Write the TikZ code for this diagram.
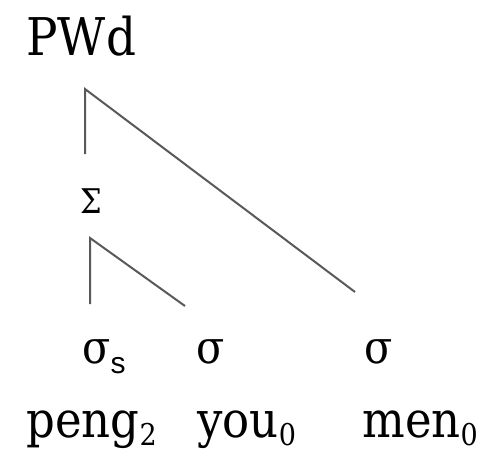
\documentclass[tikz,border=0pt]{standalone}
\usepackage{fontspec}
\newfontfamily\tmsfont{DejaVu Serif}[FakeStretch=0.9]
\newfontfamily\subsans{Liberation Sans}
\begin{document}
\begin{tikzpicture}[x=0.5pt,y=-0.5pt,
  lbl/.style={anchor=base west,inner sep=0pt,font=\tmsfont\fontsize{25pt}{30pt}\selectfont},
  grk/.style={anchor=base west,inner sep=0pt,font=\tmsfont\fontsize{23pt}{28pt}\selectfont},
  sml/.style={anchor=center,inner sep=0pt,font=\tmsfont\fontsize{17pt}{20pt}\selectfont},
  branch/.style={draw=black!65,line width=1pt}]
\useasboundingbox (0,0) rectangle (488,455);
\node[lbl,font=\tmsfont\fontsize{26pt}{30pt}\selectfont] (pwd) at (26,55) {PWd};
\node[sml] (foot) at (91,201) {Σ};
\node[grk] (s1) at (82,363) {σ\raisebox{-5pt}{\subsans\fontsize{15pt}{16pt}\selectfont s}};
\node[grk] (s2) at (196,363) {σ};
\node[grk] (s3) at (364,363) {σ};
\node[lbl] (w1) at (26,437) {peng\raisebox{-4pt}{\fontsize{15pt}{16pt}\selectfont 2}};
\node[lbl] (w2) at (197,437) {you\raisebox{-4pt}{\fontsize{15pt}{16pt}\selectfont 0}};
\node[lbl] (w3) at (362,437) {men\raisebox{-4pt}{\fontsize{15pt}{16pt}\selectfont 0}};
\coordinate (pwtop) at (85,89);
\coordinate (pwleft) at (85,154);
\coordinate (pwright) at (355,292);
\coordinate (fttop) at (90,238);
\coordinate (ftleft) at (90,304);
\coordinate (ftright) at (185,306);
\draw[branch] (pwleft) -- (pwtop) -- (pwright);
\draw[branch] (ftleft) -- (fttop) -- (ftright);
\end{tikzpicture}
\end{document}
